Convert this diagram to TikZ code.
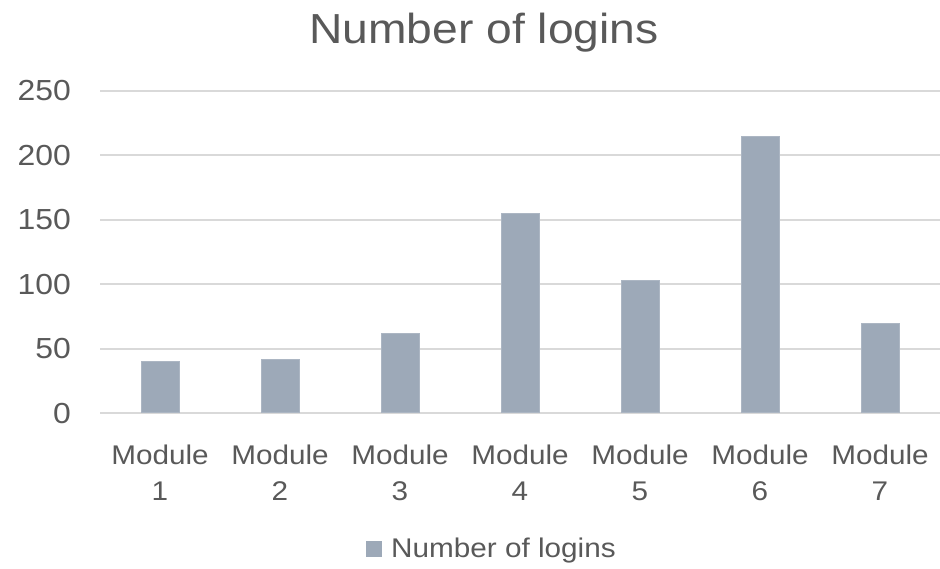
\documentclass[tikz,border=0pt]{standalone}
\usepackage{fontspec}
\setmainfont{Liberation Sans}[FakeStretch=1.1]
\definecolor{txt}{HTML}{595959}
\definecolor{grid}{HTML}{D9D9D9}
\definecolor{barfill}{HTML}{9DA9B8}
\tikzset{
  gridline/.style={draw=grid, line width=1.8pt},
  bar/.style={fill=barfill, draw=barfill!85!white, line width=0.6pt},
  ticklabel/.style={text=txt, font=\fontsize{29}{29}\selectfont, anchor=east, inner sep=0pt},
  catlabel/.style={text=txt, font=\fontsize{27}{36}\selectfont, anchor=base, inner sep=0pt, align=center},
  titlelabel/.style={text=txt, font=\fontsize{42}{42}\selectfont, anchor=base, inner sep=0pt},
}
\begin{document}
\begin{tikzpicture}[x=1pt, y=-1pt]
  \useasboundingbox (0,0) rectangle (940,568);
  % horizontal grid and value labels
  \foreach \v in {0,50,...,250} {
    \draw[gridline] (100,{413.3-1.29*\v}) -- (940,{413.3-1.29*\v});
    \node[ticklabel] (tick\v) at (71,{413.3-1.29*\v}) {\v};
  }
  % bars
  \foreach \i/\val in {1/40,2/42,3/62,4/155,5/103,6/215,7/70} {
    \path[bar] ({160+120*(\i-1)-19},412.4) rectangle ({160+120*(\i-1)+19},{413.3-1.29*\val});
    \node[catlabel] (cat\i) at ({160+120*(\i-1)},500) {Module\\\i};
  }
  % title
  \node[titlelabel] (title) at (484,43) {Number of logins};
  % legend
  \fill[barfill] (366,541) rectangle (382,557);
  \node[text=txt, font=\fontsize{27}{27}\selectfont, anchor=base west, inner sep=0pt] (legend) at (391,557) {Number of logins};
\end{tikzpicture}
\end{document}
